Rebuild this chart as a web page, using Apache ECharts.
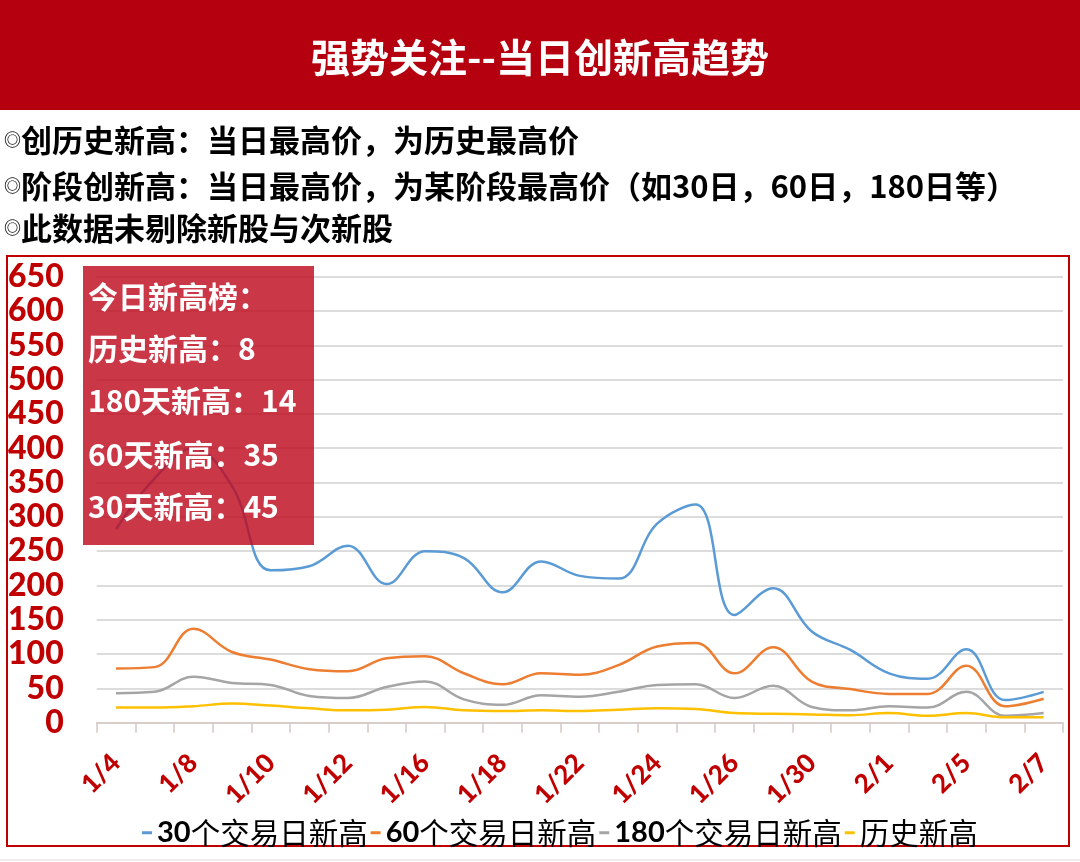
<!DOCTYPE html>
<html>
<head>
<meta charset="utf-8">
<script src="https://cdn.jsdelivr.net/npm/echarts@6/dist/echarts.min.js"></script>
<style>
html,body{margin:0;padding:0;background:#fff;}
#chart{width:1080px;height:862px;}
</style>
</head>
<body>
<div id="chart"></div>
<script>
// ---- data ----
const categories = ['1/4','1/5','1/8','1/9','1/10','1/11','1/12','1/15','1/16','1/17','1/18','1/19','1/22','1/23','1/24','1/25','1/26','1/29','1/30','1/31','2/1','2/2','2/5','2/6','2/7'];
const seriesNames = ['30个交易日新高','60个交易日新高','180个交易日新高','历史新高'];
const new30 = [282,356,400,345,222,228,258,202,250,240,190,235,214,210,290,318,157,196,133,106,72,64,107,33,45];
const new60 = [79,81,137,103,92,78,75,94,97,72,56,72,70,84,111,116,72,110,60,49,42,42,83,24,35];
const new180 = [43,45,67,58,55,39,36,52,60,34,26,40,38,45,55,56,36,54,23,18,24,22,45,10,14];
const newHist = [22,22,24,28,25,21,18,19,23,18,17,18,17,19,21,20,14,13,12,11,14,10,14,8,8];
const yTicks = [0,50,100,150,200,250,300,350,400,450,500,550,600,650];
const titleText = '强势关注--当日创新高趋势';
const noteLines = ['创历史新高：当日最高价，为历史最高价','阶段创新高：当日最高价，为某阶段最高价（如30日，60日，180日等）','此数据未剔除新股与次新股'];
const boxLines = ['今日新高榜：','历史新高：8','180天新高：14','60天新高：35','30天新高：45'];

const CJK = '"Noto Sans CJK SC"';
const RED = '#C00000';
const chart = echarts.init(document.getElementById('chart'), null, {renderer:'canvas'});

const graphics = [
  {type:'rect', shape:{x:0,y:0,width:1080,height:110}, style:{fill:'#B5000F'}, z:1},
  {type:'text', x:540, y:57, style:{text:titleText, fill:'#fff', font:'bold 39px ' + CJK, textAlign:'center', textVerticalAlign:'middle'}, z:2},
  {type:'line', shape:{x1:0,y1:860,x2:1080,y2:860}, style:{stroke:'#E6D6D6', lineWidth:1}, z:1},
  {type:'rect', shape:{x:7,y:256,width:1062,height:590}, style:{fill:null, stroke:RED, lineWidth:2}, z:1}
];
const noteY = [140,186,228];
noteLines.forEach((t,i)=>{
  graphics.push({type:'text', x:4, y:noteY[i], z:2, style:{
    text:'{c|◎}{t|' + t + '}', textVerticalAlign:'middle',
    rich:{c:{font:'bold 17px ' + CJK, fill:'#000', verticalAlign:'middle'}, t:{font:'bold 31px ' + CJK, fill:'#000', verticalAlign:'middle'}}
  }});
});
graphics.push({type:'rect', shape:{x:83,y:266,width:231,height:279}, style:{fill:'rgba(190,12,32,0.82)'}, z:100});
const boxY = [297,349,401,455,507];
boxLines.forEach((t,i)=>{
  graphics.push({type:'text', x:88, y:boxY[i], z:101, style:{text:t, fill:'#fff', font:'bold 30px ' + CJK, textVerticalAlign:'middle'}});
});

const colors = ['#5B9BD5','#ED7D31','#A5A5A5','#FFC000'];
const dataArr = [new30,new60,new180,newHist];

chart.setOption({
  backgroundColor:'#fff',
  animation:false,
  color:colors,
  grid:{left:96.7, right:17, top:276.7, bottom:139.3, containLabel:false},
  legend:{
    left:137, top:813, icon:'rect', itemWidth:10, itemHeight:3, itemGap:3,
    data:seriesNames,
    formatter:function(name){
      const m = name.match(/^(\d+)(.*)$/);
      return m ? '{n|' + m[1] + '}{c|' + m[2] + '}' : '{c|' + name + '}';
    },
    textStyle:{color:'#000', rich:{
      n:{fontFamily:'Lato', fontWeight:'bold', fontSize:29, lineHeight:34, color:'#000'},
      c:{fontFamily:'Noto Sans CJK SC', fontWeight:'normal', fontSize:29.5, lineHeight:34, color:'#000'}
    }}
  },
  xAxis:{
    type:'category', data:categories, boundaryGap:true,
    axisLine:{lineStyle:{color:'#D5C8C4', width:1.5}},
    axisTick:{show:true, interval:0, length:10, alignWithLabel:false, lineStyle:{color:'#D5C8C4', width:1.5}},
    axisLabel:{interval:1, rotate:45, margin:36, color:RED, fontFamily:'Lato', fontWeight:900, fontSize:26},
    splitLine:{show:false}
  },
  yAxis:{
    type:'value', min:yTicks[0], max:yTicks[yTicks.length-1], interval:50,
    axisLine:{show:false}, axisTick:{show:false},
    axisLabel:{margin:33, color:RED, fontFamily:'Lato', fontWeight:900, fontSize:32},
    splitLine:{lineStyle:{color:'#D0D0D0', width:1.5}}
  },
  series: seriesNames.map((n,i)=>({
    name:n, type:'line', data:dataArr[i], smooth:0.4, symbol:'none',
    lineStyle:{width:2.5, color:colors[i]}, itemStyle:{color:colors[i]}, z:3
  })),
  graphic:{elements:graphics}
});
</script>
</body>
</html>
